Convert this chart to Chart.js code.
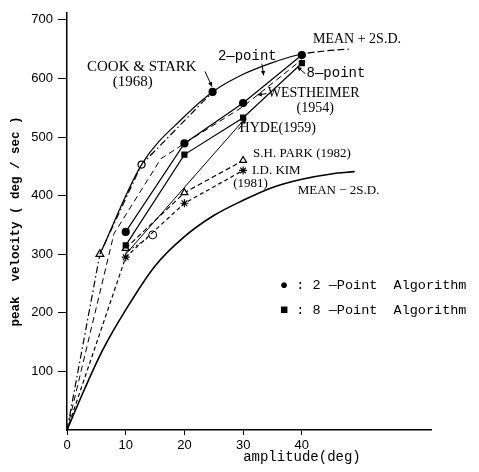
<!DOCTYPE html>
<html>
<head>
<meta charset="utf-8">
<script src="https://cdn.jsdelivr.net/npm/chart.js@4.4.1/dist/chart.umd.min.js"></script>
<style>
  html, body { margin: 0; padding: 0; background: #fff; }
</style>
</head>
<body>
<canvas id="chart" width="479" height="472"></canvas>
<script>
// Values (amplitude in deg, peak velocity in deg/sec)
const xTicks = [0, 10, 20, 30, 40];
const yTicks = [100, 200, 300, 400, 500, 600, 700];

const ampPlus = [5.6, 12.7, 20, 24.8, 30, 35, 39.3, 44, 48];
const velPlus = [300, 453, 535, 577, 607, 627, 640, 647, 650];

const ampMinus = [0, 3, 6, 10, 15, 20, 25, 30, 35, 40, 45, 49];
const velMinus = [0, 70, 135, 205, 280, 330, 366, 392, 414, 428, 437, 441];

const ampCook = [0, 5.6, 12.7, 24.8];
const velCook = [0, 300, 453, 577];

const amp2pt = [10, 20, 30, 40];
const vel2pt = [338, 489, 558, 640];

const amp8pt = [10, 20, 30, 40];
const vel8pt = [315, 470, 533, 626];

const ampWest = [0, 8, 16, 20, 30, 40];
const velWest = [0, 335, 463, 489, 552, 632];

const ampHyde = [10, 30];
const velHyde = [300, 528];

const ampPark = [10, 20, 30];
const velPark = [310, 405, 460];

const ampKim = [0, 10, 20, 30];
const velKim = [0, 295, 387, 443];

const ampOpen = [10, 14.6];
const velOpen = [303, 333];

const toPoints = (xs, ys) => xs.map((x, i) => ({ x: x, y: ys[i] }));

// Text placed in data coordinates
const labels = [
    { text: 'COOK & STARK', a: 3.4, v: 620, font: '15px "Liberation Serif"' },
    { text: '(1968)', a: 7.8, v: 593, font: '15px "Liberation Serif"' },
    { text: '2\u2014point', a: 25.7, v: 637, font: '14px "Liberation Mono"' },
    { text: 'MEAN + 2S.D.', a: 41.9, v: 666, font: '14px "Liberation Serif"' },
    { text: '8\u2014point', a: 40.8, v: 608, font: '14px "Liberation Mono"' },
    { text: 'WESTHEIMER', a: 34.2, v: 574, font: '14px "Liberation Serif"' },
    { text: '(1954)', a: 39.1, v: 549, font: '14px "Liberation Serif"' },
    { text: 'HYDE(1959)', a: 29.4, v: 515, font: '14px "Liberation Serif"' },
    { text: 'S.H. PARK (1982)', a: 31.7, v: 472, font: '13px "Liberation Serif"' },
    { text: 'I.D. KIM', a: 31.5, v: 442, font: '13px "Liberation Serif"' },
    { text: '(1981)', a: 28.3, v: 420, font: '13px "Liberation Serif"' },
    { text: 'MEAN \u2212 2S.D.', a: 39.3, v: 408, font: '13px "Liberation Serif"' },
    { text: '\u25CF : 2 \u2014Point  Algorithm', a: 36.3, v: 246, font: '13.5px "Liberation Mono"' },
    { text: '\u25A0 : 8 \u2014Point  Algorithm', a: 36.3, v: 204, font: '13.5px "Liberation Mono"' },
    { text: 'amplitude(deg)', a: 30, v: -47, font: '14px "Liberation Mono"' }
];

const arrows = [
    [23.5, 612, 24.7, 586],
    [33.2, 625, 33.5, 605],
    [40.6, 608, 39.2, 620],
    [34.0, 574, 32.4, 572],
    [29.2, 513, 30.5, 530]
];

const annotate = {
    id: 'annotate',
    beforeDraw(chart) {
        const ctx = chart.ctx;
        ctx.save();
        ctx.fillStyle = '#fff';
        ctx.fillRect(0, 0, chart.width, chart.height);
        ctx.restore();
    },
    afterDraw(chart) {
        const ctx = chart.ctx;
        const xs = chart.scales.x, ys = chart.scales.y;
        ctx.save();
        ctx.fillStyle = '#000';
        ctx.textBaseline = 'middle';
        ctx.textAlign = 'left';
        labels.forEach(l => {
            ctx.font = l.font;
            ctx.fillText(l.text, xs.getPixelForValue(l.a), ys.getPixelForValue(l.v));
        });
        ctx.strokeStyle = '#000';
        ctx.lineWidth = 1;
        arrows.forEach(([a1, v1, a2, v2]) => {
            const x1 = xs.getPixelForValue(a1), y1 = ys.getPixelForValue(v1);
            const x2 = xs.getPixelForValue(a2), y2 = ys.getPixelForValue(v2);
            const ang = Math.atan2(y2 - y1, x2 - x1);
            ctx.beginPath();
            ctx.moveTo(x1, y1);
            ctx.lineTo(x2, y2);
            ctx.stroke();
            ctx.beginPath();
            ctx.moveTo(x2, y2);
            ctx.lineTo(x2 - 5 * Math.cos(ang - 0.45), y2 - 5 * Math.sin(ang - 0.45));
            ctx.lineTo(x2 - 5 * Math.cos(ang + 0.45), y2 - 5 * Math.sin(ang + 0.45));
            ctx.closePath();
            ctx.fill();
        });
        ctx.restore();
    }
};

const base = {
    showLine: true,
    borderColor: '#000',
    backgroundColor: '#000',
    pointBorderColor: '#000',
    borderWidth: 1.2,
    pointRadius: 0,
    tension: 0
};

new Chart(document.getElementById('chart').getContext('2d'), {
    type: 'scatter',
    data: {
        datasets: [
            Object.assign({}, base, {
                label: '2-point',
                data: toPoints(amp2pt, vel2pt),
                pointRadius: 3.5,
                pointStyle: 'circle'
            }),
            Object.assign({}, base, {
                label: '8-point',
                data: toPoints(amp8pt, vel8pt),
                pointRadius: 3.5,
                pointStyle: 'rect'
            }),
            Object.assign({}, base, {
                label: 'MEAN + 2S.D.',
                data: toPoints(ampPlus, velPlus),
                tension: 0.4,
                cubicInterpolationMode: 'monotone',
                segment: {
                    borderDash: c => c.p0.parsed.x >= 39 ? [7, 3] : undefined
                }
            }),
            Object.assign({}, base, {
                label: 'MEAN - 2S.D.',
                data: toPoints(ampMinus, velMinus),
                borderWidth: 1.6,
                tension: 0.4,
                cubicInterpolationMode: 'monotone'
            }),
            Object.assign({}, base, {
                label: 'COOK & STARK (1968)',
                data: toPoints(ampCook, velCook),
                borderDash: [7, 3, 1.5, 3],
                pointRadius: [0, 4.5, 3.5, 3.5],
                pointStyle: ['circle', 'triangle', 'circle', 'circle'],
                pointBackgroundColor: ['#fff', '#fff', '#fff', '#000']
            }),
            Object.assign({}, base, {
                label: 'WESTHEIMER (1954)',
                data: toPoints(ampWest, velWest),
                borderWidth: 1,
                borderDash: [6, 4]
            }),
            Object.assign({}, base, {
                label: 'HYDE (1959)',
                data: toPoints(ampHyde, velHyde),
                borderWidth: 1
            }),
            Object.assign({}, base, {
                label: 'S.H. PARK (1982)',
                data: toPoints(ampPark, velPark),
                borderDash: [5, 3],
                pointRadius: 4,
                pointStyle: 'triangle',
                pointBackgroundColor: '#fff'
            }),
            Object.assign({}, base, {
                label: 'I.D. KIM (1981)',
                data: toPoints(ampKim, velKim),
                borderDash: [4, 3],
                pointRadius: [0, 4, 4, 4],
                pointStyle: 'star'
            }),
            Object.assign({}, base, {
                label: 'open',
                data: toPoints(ampOpen, velOpen),
                borderWidth: 1,
                borderDash: [2, 2],
                pointRadius: [0, 4],
                pointBackgroundColor: '#fff'
            })
        ]
    },
    options: {
        responsive: false,
        animation: false,
        layout: {
            padding: { top: 11, right: 48, left: 0, bottom: 0 }
        },
        plugins: {
            legend: { display: false },
            tooltip: { enabled: false }
        },
        scales: {
            x: {
                type: 'linear',
                min: 0,
                max: 62,
                afterBuildTicks: s => { s.ticks = xTicks.map(v => ({ value: v })); },
                afterFit: s => { s.height = 42; },
                grid: { drawOnChartArea: false, drawTicks: true, tickLength: 5, color: '#000' },
                border: { color: '#000', width: 1.5 },
                ticks: {
                    color: '#000',
                    padding: 3,
                    maxRotation: 0,
                    autoSkip: false,
                    font: { family: 'Liberation Sans', size: 13 }
                }
            },
            y: {
                min: 0,
                max: 712,
                afterBuildTicks: s => { s.ticks = yTicks.map(v => ({ value: v })); },
                afterFit: s => { s.width = 67; },
                grid: { drawOnChartArea: false, drawTicks: true, tickLength: 9, color: '#000' },
                border: { color: '#000', width: 1.5 },
                ticks: {
                    color: '#000',
                    padding: 5,
                    autoSkip: false,
                    font: { family: 'Liberation Sans', size: 13 }
                },
                title: {
                    display: true,
                    text: 'peak  velocity ( deg / sec )',
                    color: '#000',
                    padding: { top: 8, bottom: 0 },
                    font: { family: 'Liberation Mono', size: 12.5, weight: 'bold' }
                }
            }
        }
    },
    plugins: [annotate]
});
</script>
</body>
</html>
